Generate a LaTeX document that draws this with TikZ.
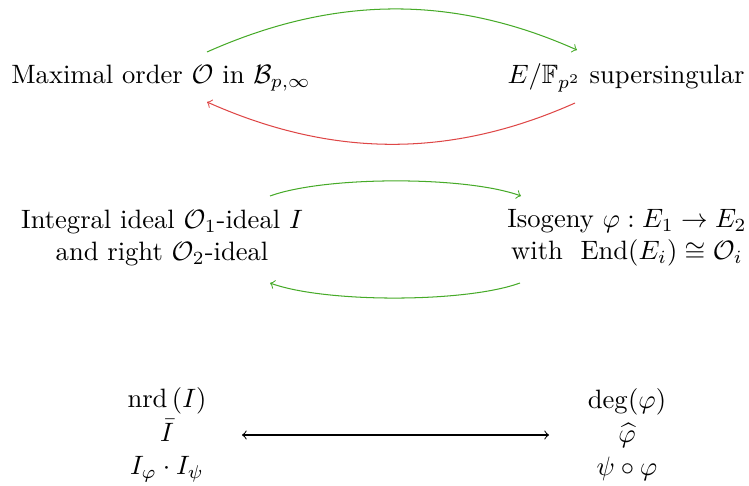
\documentclass[tikz,border=0pt]{standalone}
\usepackage{amsmath,amssymb}
\usetikzlibrary{calc}
\definecolor{grn}{RGB}{70,170,40}
\definecolor{rd}{RGB}{222,70,70}
\DeclareMathOperator{\End}{End}
\DeclareMathOperator{\nrd}{nrd}
\begin{document}
\begin{tikzpicture}[x=0.3876pt,y=-0.3876pt,
  lbl/.style={inner sep=0pt,align=center,scale=1.03},
  garrow/.style={->,grn,line width=0.4pt},
  rarrow/.style={->,rd,line width=0.4pt}]
\useasboundingbox (0,0) rectangle (749,486);
\node[lbl] (A) at (161,78) {Maximal order $\mathcal{O}$ in $\mathcal{B}_{p,\infty}$};
\node[lbl] (B) at (626,78) {$E/\mathbb{F}_{p^2}$ supersingular};
\node[lbl] (C) at (162,238) {Integral ideal $\mathcal{O}_1$-ideal $I$\\ and right $\mathcal{O}_2$-ideal};
\node[lbl] (D) at (627,238) {Isogeny $\varphi : E_1 \to E_2$\\ with \ $\End(E_i)\cong\mathcal{O}_i$};
\node[lbl] (E) at (167,435) {$\nrd\left(I\right)$\\[0.6pt] $\bar{I}$\\[0.6pt] $I_\varphi\cdot I_\psi$};
\node[lbl] (F) at (627,435) {$\deg(\varphi)$\\[0.6pt] $\widehat{\varphi}$\\[0.6pt] $\psi\circ\varphi$};
\draw[garrow] ([shift={(46,-26)}]A.center) to[out=24,in=156,looseness=0.95] ([shift={(-49,-28)}]B.center);
\draw[rarrow] ([shift={(-51,25)}]B.center) to[out=-156,in=-24,looseness=0.95] ([shift={(46,24)}]A.center);
\draw[garrow] ([shift={(108,-42)}]C.center) to[out=20,in=160,looseness=0.6] ([shift={(-106,-42)}]D.center);
\draw[garrow] ([shift={(-107,45)}]D.center) to[out=-160,in=-20,looseness=0.6] ([shift={(108,45)}]C.center);
\draw[<->] ([shift={(75,0)}]E.center) -- ([shift={(-78,0)}]F.center);
\end{tikzpicture}
\end{document}
